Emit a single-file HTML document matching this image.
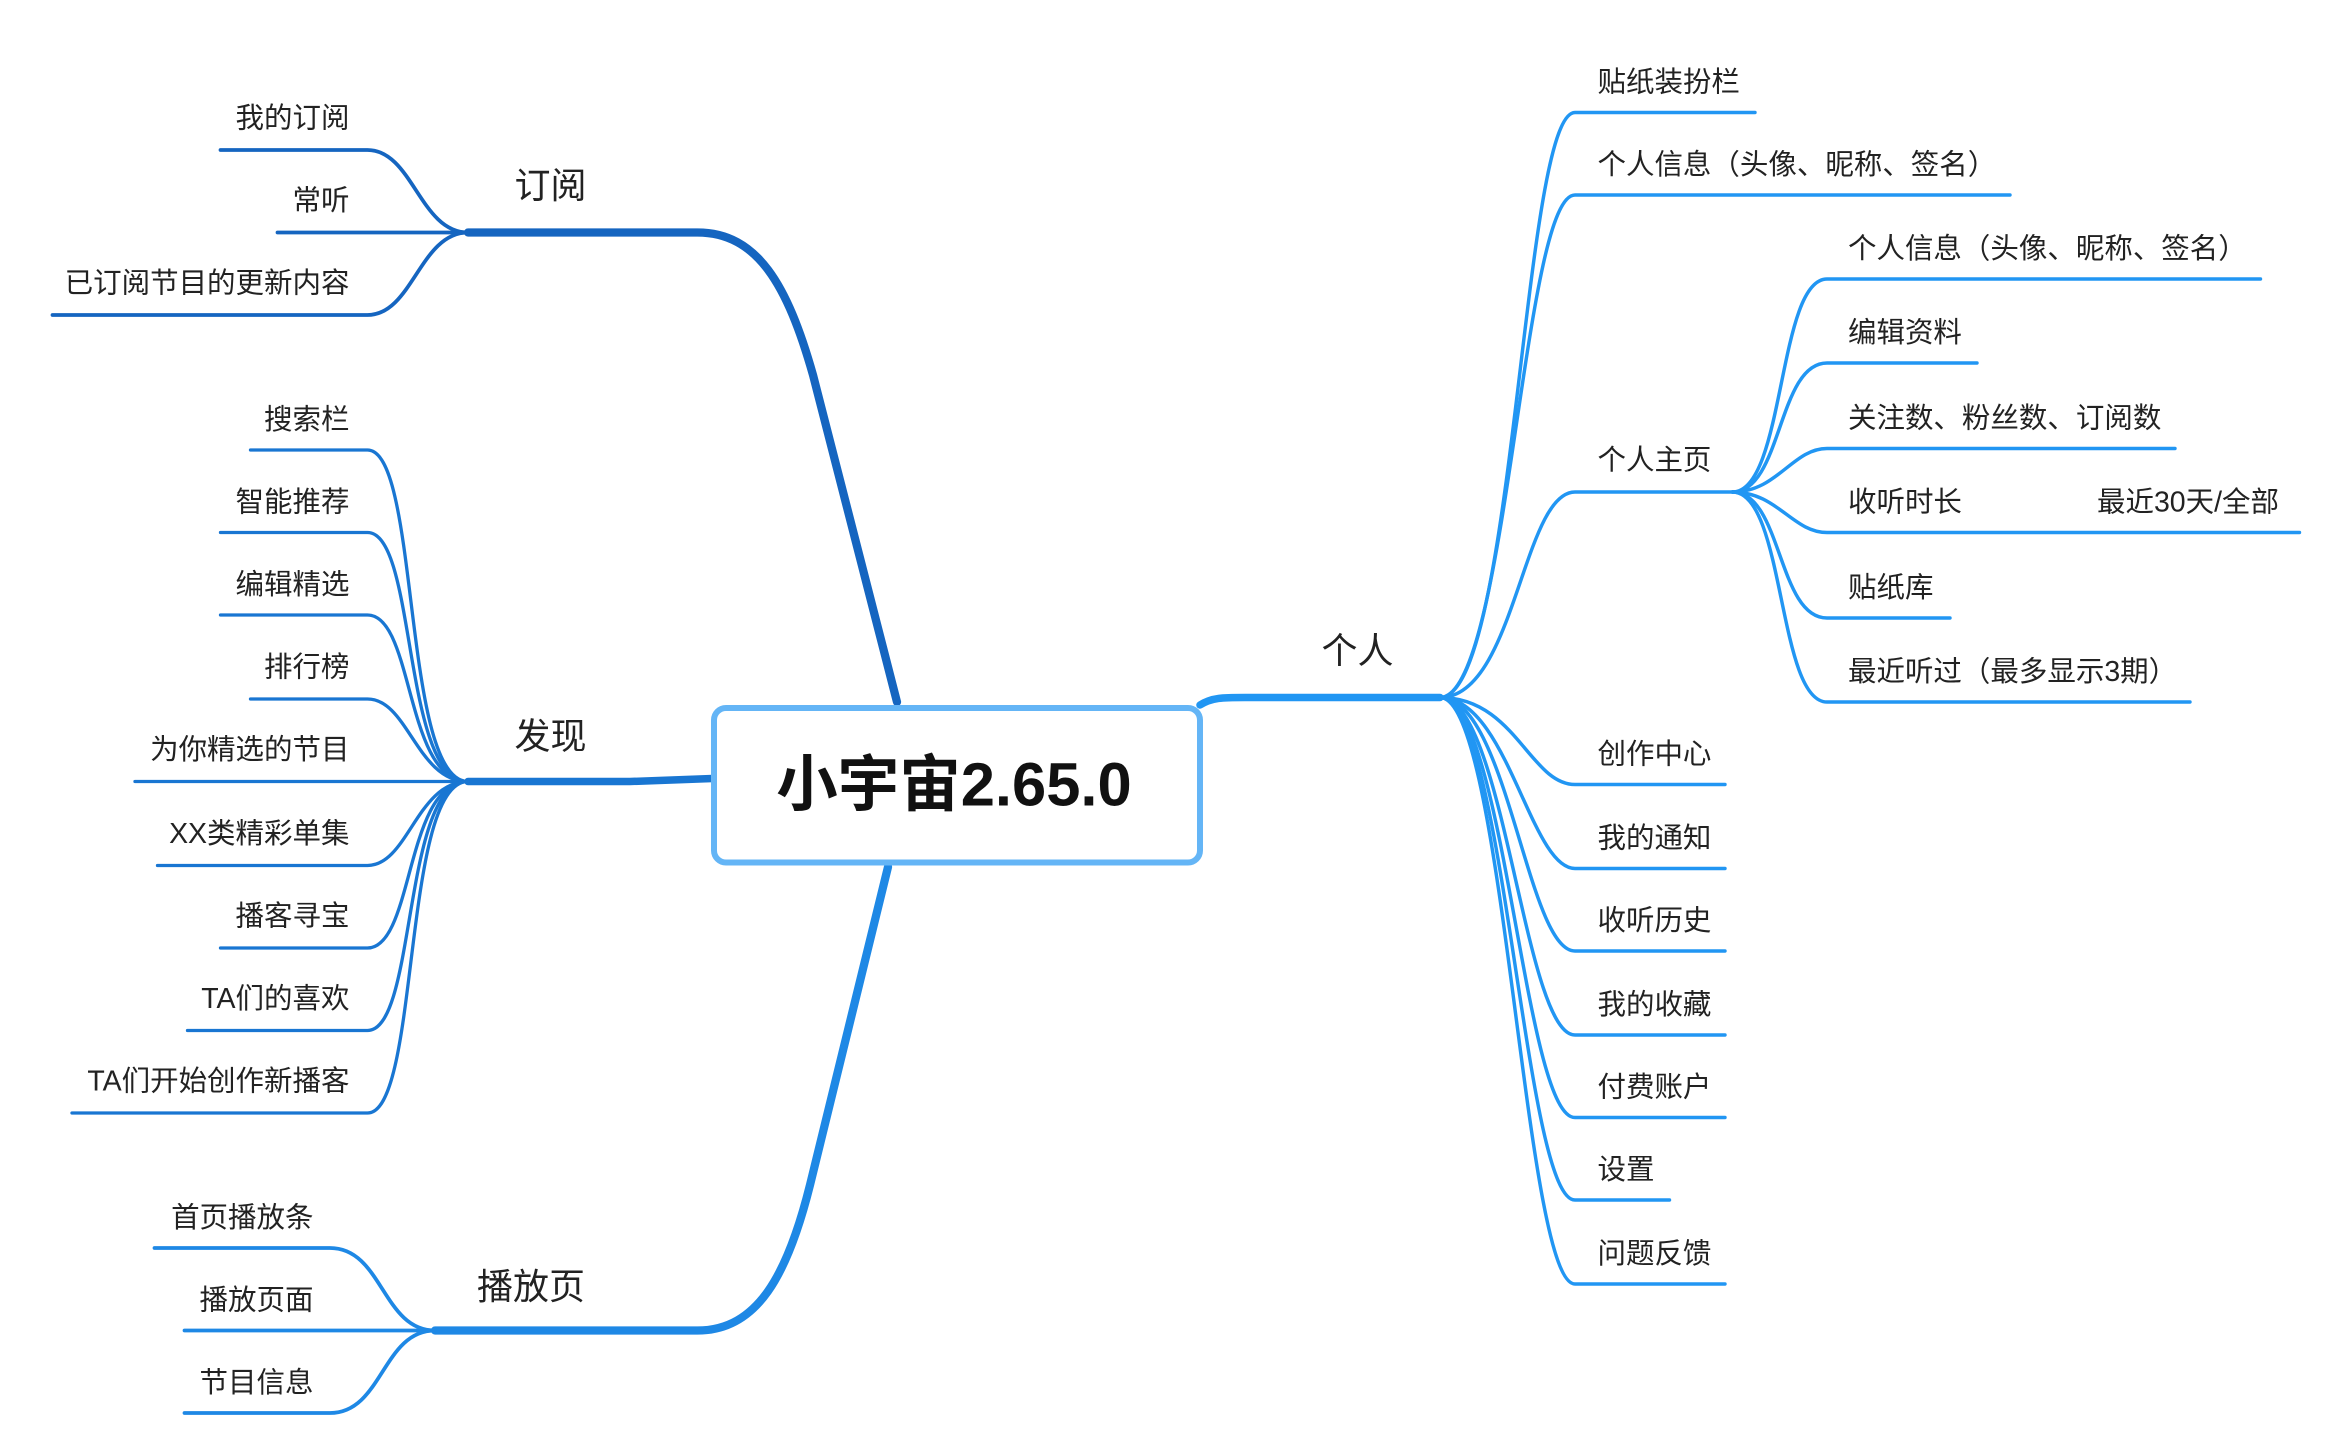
<!DOCTYPE html>
<html><head><meta charset="utf-8"><style>
html,body{margin:0;padding:0;background:#fff;}
svg{display:block;}
text{font-family:"Liberation Sans","Noto Sans CJK SC",sans-serif;fill:#222;}
</style></head><body>
<svg width="2326" height="1452" viewBox="0 0 1550.67 968" xmlns="http://www.w3.org/2000/svg">
<g fill="none" stroke-linecap="round">
<path d="M312,155 L465,155 C505,155 525,190 542,250 L598,468" stroke="#1565c0" stroke-width="5.5"/>
<path d="M312,521 L420,521 L475,519" stroke="#1976d2" stroke-width="5"/>
<path d="M290,887 L465,887 C505,887 525,850 540,790 L592,578" stroke="#1e88e5" stroke-width="5.5"/>
<path d="M800,470 C808,465 815,465 830,465 L960,465" stroke="#2196f3" stroke-width="5"/>
<g stroke="#1565c0" stroke-width="2.5">
<path d="M147,100 L245,100 C275,100 280,155 312,155"/>
<path d="M185,155 L312,155"/>
<path d="M35,210 L245,210 C275,210 280,155 312,155"/>
</g>
<g stroke="#1976d2" stroke-width="2.2">
<path d="M167,300 L245,300 C280,300 268,521 312,521"/>
<path d="M147,355 L245,355 C278,355 268,521 312,521"/>
<path d="M147,410 L245,410 C276,410 270,521 312,521"/>
<path d="M167,466 L245,466 C272,466 278,521 312,521"/>
<path d="M90,521 L312,521"/>
<path d="M105,577 L245,577 C272,577 278,521 312,521"/>
<path d="M147,632 L245,632 C276,632 270,521 312,521"/>
<path d="M125,687 L245,687 C278,687 268,521 312,521"/>
<path d="M48,742 L245,742 C280,742 268,521 312,521"/>
</g>
<g stroke="#1e88e5" stroke-width="2.5">
<path d="M103,832 L220,832 C255,832 255,887 290,887"/>
<path d="M123,887 L290,887"/>
<path d="M123,942 L220,942 C255,942 255,887 290,887"/>
</g>
<g stroke="#2196f3" stroke-width="2.3">
<path d="M960,465 C1010,465 1015,75 1050,75 L1170,75"/>
<path d="M960,465 C1005,465 1015,130 1050,130 L1340,130"/>
<path d="M960,465 C1010,465 1015,328 1050,328 L1155,328"/>
<path d="M960,465 C1010,465 1020,523 1050,523 L1150,523"/>
<path d="M960,465 C1005,465 1020,579 1050,579 L1150,579"/>
<path d="M960,465 C1005,465 1018,634 1050,634 L1150,634"/>
<path d="M960,465 C1003,465 1016,690 1050,690 L1150,690"/>
<path d="M960,465 C1003,465 1016,745 1050,745 L1150,745"/>
<path d="M960,465 C1003,465 1016,800 1050,800 L1113,800"/>
<path d="M960,465 C1003,465 1016,856 1050,856 L1150,856"/>
</g>
<g stroke="#2196f3" stroke-width="2.3">
<path d="M1155,328 C1190,328 1185,186 1218,186 L1507,186"/>
<path d="M1155,328 C1188,328 1185,242 1218,242 L1318,242"/>
<path d="M1155,328 C1185,328 1195,299 1218,299 L1450,299"/>
<path d="M1155,328 C1185,328 1195,355 1218,355 L1533,355"/>
<path d="M1155,328 C1188,328 1185,412 1218,412 L1300,412"/>
<path d="M1155,328 C1190,328 1185,468 1218,468 L1460,468"/>
</g>
</g>
<rect x="476" y="472" width="324" height="103" rx="8" fill="#fff" stroke="#64b5f6" stroke-width="4"/>
<text x="636" y="537" font-size="41" font-weight="bold" text-anchor="middle" style="fill:#111">小宇宙2.65.0</text>
<g font-size="24">
<text x="367" y="132" text-anchor="middle">订阅</text>
<text x="367" y="499" text-anchor="middle">发现</text>
<text x="354" y="866" text-anchor="middle">播放页</text>
<text x="905" y="442" text-anchor="middle">个人</text>
</g>
<g font-size="19" text-anchor="end">
<text x="233" y="85">我的订阅</text>
<text x="233" y="140">常听</text>
<text x="233" y="195">已订阅节目的更新内容</text>
<text x="233" y="286">搜索栏</text>
<text x="233" y="341">智能推荐</text>
<text x="233" y="396">编辑精选</text>
<text x="233" y="451">排行榜</text>
<text x="233" y="506">为你精选的节目</text>
<text x="233" y="562">XX类精彩单集</text>
<text x="233" y="617">播客寻宝</text>
<text x="233" y="672">TA们的喜欢</text>
<text x="233" y="727">TA们开始创作新播客</text>
<text x="209" y="818">首页播放条</text>
<text x="209" y="873">播放页面</text>
<text x="209" y="928">节目信息</text>
</g>
<g font-size="19">
<text x="1065" y="61">贴纸装扮栏</text>
<text x="1065" y="116">个人信息（头像、昵称、签名）</text>
<text x="1065" y="313">个人主页</text>
<text x="1065" y="509">创作中心</text>
<text x="1065" y="565">我的通知</text>
<text x="1065" y="620">收听历史</text>
<text x="1065" y="676">我的收藏</text>
<text x="1065" y="731">付费账户</text>
<text x="1065" y="786">设置</text>
<text x="1065" y="842">问题反馈</text>
<text x="1232" y="172">个人信息（头像、昵称、签名）</text>
<text x="1232" y="228">编辑资料</text>
<text x="1232" y="285">关注数、粉丝数、订阅数</text>
<text x="1232" y="341">收听时长</text>
<text x="1398" y="341">最近30天/全部</text>
<text x="1232" y="398">贴纸库</text>
<text x="1232" y="454">最近听过（最多显示3期）</text>
</g>
</svg>
</body></html>
